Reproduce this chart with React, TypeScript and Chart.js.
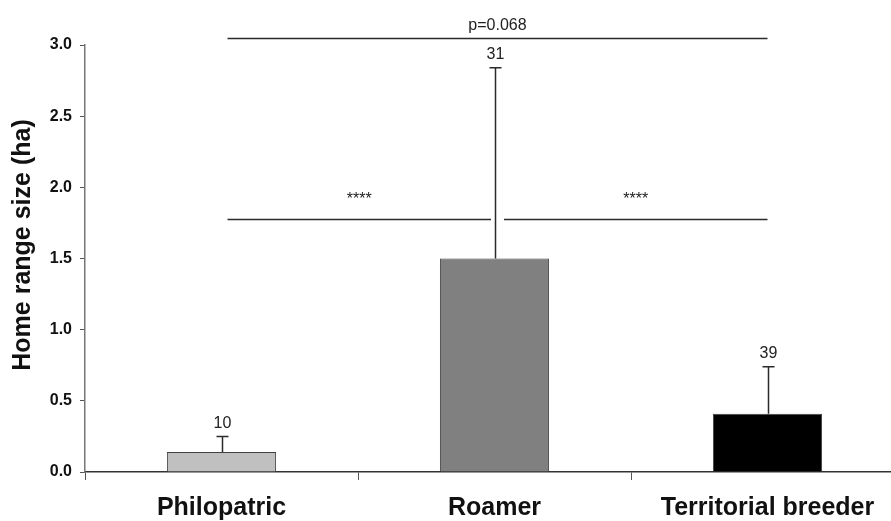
import React, { useEffect, useRef } from "react";
import { Chart, registerables } from "chart.js";

Chart.register(...registerables);

const categories = ["Philopatric", "Roamer", "Territorial breeder"];
const means = [0.14, 1.5, 0.41];
const upperErrors = [0.11, 1.34, 0.33];
const sampleSizes = ["10", "31", "39"];
const barColors = ["#c0c0c0", "#808080", "#000000"];
const yMin = 0;
const yMax = 3.0;
const yStep = 0.5;
const yTitle = "Home range size (ha)";

const bracketFrom = [0, 1, 0];
const bracketTo = [1, 2, 2];
const bracketY = [1.78, 1.78, 3.05];
const bracketLabels = ["****", "****", "p=0.068"];

const FONT = "Arial, 'Liberation Sans', Helvetica, sans-serif";

const annotationPlugin = {
  id: "annotations",
  afterDatasetsDraw(chart: any) {
    const ctx = chart.ctx;
    const x = chart.scales.x;
    const y = chart.scales.y;
    ctx.save();
    // error bars + sample sizes
    ctx.strokeStyle = "#2a2a2a";
    ctx.lineWidth = 1.5;
    means.forEach((m, i) => {
      const cx = Math.round(x.getPixelForValue(i)) + 0.5;
      const yTop = y.getPixelForValue(m);
      const yErr = y.getPixelForValue(m + upperErrors[i]);
      ctx.beginPath();
      ctx.moveTo(cx, yTop);
      ctx.lineTo(cx, yErr);
      ctx.moveTo(cx - 6, yErr);
      ctx.lineTo(cx + 6, yErr);
      ctx.stroke();
      ctx.fillStyle = "#222222";
      ctx.font = `16px ${FONT}`;
      ctx.textAlign = "center";
      ctx.textBaseline = "bottom";
      ctx.fillText(sampleSizes[i], cx, yErr - 5);
    });
    // significance brackets
    bracketLabels.forEach((label, k) => {
      const c1 = x.getPixelForValue(bracketFrom[k]);
      const c2 = x.getPixelForValue(bracketTo[k]);
      const x1 = bracketFrom[k] === 1 ? c1 + 9.5 : c1 + 6;
      const x2 = bracketTo[k] === 1 ? c2 - 3.5 : c2;
      const py = Math.round(y.getPixelForValue(bracketY[k])) + 0.5;
      ctx.beginPath();
      ctx.moveTo(x1, py);
      ctx.lineTo(x2, py);
      ctx.stroke();
      ctx.fillStyle = "#222222";
      ctx.font = `16px ${FONT}`;
      ctx.textAlign = "center";
      ctx.textBaseline = "bottom";
      ctx.fillText(label, (x1 + x2) / 2, label.startsWith("*") ? py - 12 : py - 5);
    });
    // y axis title
    ctx.save();
    ctx.translate(23, 245);
    ctx.rotate(-Math.PI / 2);
    ctx.fillStyle = "#111111";
    ctx.font = `bold 25px ${FONT}`;
    ctx.textAlign = "center";
    ctx.textBaseline = "middle";
    ctx.fillText(yTitle, 0, 0);
    ctx.restore();
    ctx.restore();
  },
};

export default function App() {
  const canvasRef = useRef<HTMLCanvasElement | null>(null);

  useEffect(() => {
    const canvas = canvasRef.current;
    if (!canvas) return;
    const chart = new Chart(canvas, {
      type: "bar",
      data: {
        labels: categories,
        datasets: [
          {
            data: means,
            backgroundColor: barColors,
            borderColor: "#404040",
            borderWidth: 1,
            barPercentage: 0.4,
            categoryPercentage: 1,
          },
        ],
      },
      options: {
        responsive: false,
        animation: false,
        devicePixelRatio: 1,
        layout: { padding: { top: 45, right: 8, bottom: 0, left: 0 } },
        plugins: {
          legend: { display: false },
          tooltip: { enabled: false },
        },
        scales: {
          x: {
            offset: true,
            grid: {
              offset: true,
              drawOnChartArea: false,
              drawTicks: true,
              tickLength: 8,
              color: "#555555",
            },
            border: { display: true, color: "#333333", width: 1.5 },
            ticks: {
              color: "#111111",
              font: { family: FONT, size: 25, weight: "bold" },
              padding: 13,
              maxRotation: 0,
              autoSkip: false,
            },
            afterFit(scale: any) {
              scale.height = 49;
            },
          },
          y: {
            min: yMin,
            max: yMax,
            grid: {
              drawOnChartArea: false,
              drawTicks: true,
              tickLength: 5,
              color: "#555555",
            },
            border: { display: true, color: "#777777", width: 1.5 },
            ticks: {
              stepSize: yStep,
              color: "#111111",
              padding: 8,
              font: { family: FONT, size: 16, weight: "bold" },
              callback: (v: any) => Number(v).toFixed(1),
            },
            afterFit(scale: any) {
              scale.width = 85;
            },
          },
        },
      },
      plugins: [annotationPlugin],
    });
    return () => chart.destroy();
  }, []);

  return (
    <div
      style={{
        position: "fixed",
        left: 0,
        top: 0,
        width: 891,
        height: 521,
        overflow: "hidden",
        background: "#ffffff",
      }}
    >
      <canvas ref={canvasRef} width={912} height={521} style={{ display: "block" }} />
    </div>
  );
}
